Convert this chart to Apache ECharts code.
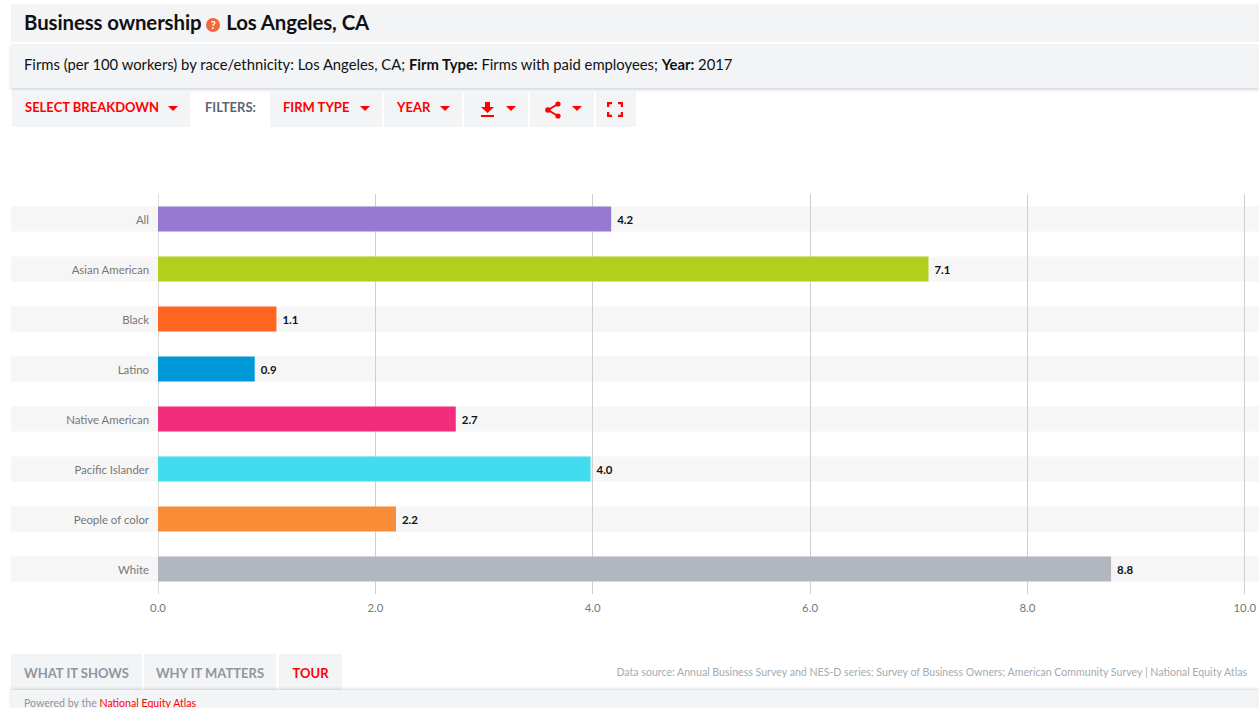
<!DOCTYPE html>
<html>
<head>
<meta charset="utf-8">
<script src="https://cdn.jsdelivr.net/npm/echarts@6/dist/echarts.min.js"></script>
<style>
    html, body { margin: 0; padding: 0; width: 1259px; height: 708px; overflow: hidden; background: #fff; font-family: Lato, "Open Sans", sans-serif; color: #111; }
    #chart { position: absolute; left: 0; top: 0; width: 1259px; height: 708px; }
    .box { position: absolute; background: #f2f4f6; white-space: nowrap; box-sizing: border-box; }
    .title { left: 11px; top: 4px; width: 1248px; height: 38px; line-height: 36px; padding-left: 13px; font-size: 20.4px; font-weight: 700; letter-spacing: -0.1px; }
    .sub { left: 11px; top: 44px; width: 1248px; height: 44px; line-height: 41px; padding-left: 13px; font-size: 14.8px; box-shadow: 0 2px 3px rgba(90, 100, 120, 0.25); }
    .btn { top: 91px; height: 36px; line-height: 33px; color: #f00; font-size: 13px; font-weight: 700; }
    .btn span { position: absolute; top: 0; }
    .caret { position: absolute; top: 15px; width: 0; height: 0; border-left: 5px solid transparent; border-right: 5px solid transparent; border-top: 5px solid #f00; }
    .tab { top: 654px; height: 36px; line-height: 39px; text-align: center; font-size: 13px; font-weight: 700; color: #8e969e; }
    .help { display: inline-block; width: 14px; height: 14px; line-height: 14px; border-radius: 50%; background: #ee6a3c; color: #fff; font-size: 11px; text-align: center; vertical-align: 1px; margin: 0 1px 0 0; letter-spacing: 0; }
    .abs { position: absolute; white-space: nowrap; }
    svg { position: absolute; }
</style>
</head>
<body>
<div id="chart"></div>

<div class="box title">Business ownership <span class="help">?</span> Los Angeles, CA</div>
<div class="box sub">Firms (per 100 workers) by race/ethnicity: Los Angeles, CA; <b>Firm Type:</b> Firms with paid employees; <b>Year:</b> 2017</div>

<div class="box btn" style="left:12px;width:178px"><span style="left:13px">SELECT BREAKDOWN</span><i class="caret" style="left:156px"></i></div>
<div class="abs" style="left:205px;top:91px;line-height:33px;font-size:13px;font-weight:700;color:#5d6670">FILTERS:</div>
<div class="box btn" style="left:270px;width:112px"><span style="left:13px">FIRM TYPE</span><i class="caret" style="left:90px"></i></div>
<div class="box btn" style="left:384px;width:78px"><span style="left:13px">YEAR</span><i class="caret" style="left:56px"></i></div>
<div class="box btn" style="left:464px;width:64px">
    <svg style="left:16px;top:11px" width="15" height="15" viewBox="0 0 15 15"><path d="M5 0h5v5h4l-6.5 6L1 5h4zM1 13h13v2H1z" fill="#f00"/></svg>
    <i class="caret" style="left:42px"></i>
</div>
<div class="box btn" style="left:530px;width:64px">
    <svg style="left:14px;top:10px" width="18" height="18" viewBox="0 0 18 18"><path d="M14 3L4 9l10 6" fill="none" stroke="#f00" stroke-width="2"/><circle cx="14" cy="3" r="2.6" fill="#f00"/><circle cx="4" cy="9" r="2.8" fill="#f00"/><circle cx="14" cy="15" r="2.6" fill="#f00"/></svg>
    <i class="caret" style="left:42px"></i>
</div>
<div class="box btn" style="left:596px;width:40px">
    <svg style="left:11px;top:11px" width="16" height="15" viewBox="0 0 16 15"><path d="M1 5V1h4M11 1h4v4M15 10v4h-4M5 14H1v-4" fill="none" stroke="#f00" stroke-width="2.4"/></svg>
</div>

<div class="box tab" style="left:11px;width:131px">WHAT IT SHOWS</div>
<div class="box tab" style="left:144px;width:132px">WHY IT MATTERS</div>
<div class="box tab" style="left:279px;width:63px;color:#f00">TOUR</div>
<div class="abs" style="right:12px;top:666px;font-size:10.6px;color:#a4abb3">Data source: Annual Business Survey and NES-D series; Survey of Business Owners; American Community Survey | National Equity Atlas</div>
<div class="box" style="left:11px;top:690px;width:1248px;height:18px;line-height:27px;padding-left:13px;font-size:10.6px;color:#8e969e;box-shadow:0 -1px 3px rgba(90,100,120,0.25)">Powered by the <span style="color:#f00">National Equity Atlas</span></div>

<script>
    const categories = ['All', 'Asian American', 'Black', 'Latino', 'Native American', 'Pacific Islander', 'People of color', 'White']
    const firmValues = [4.17, 7.09, 1.09, 0.89, 2.74, 3.98, 2.19, 8.77]
    const barColors = ['#9778d3', '#b2cf1e', '#ff6720', '#0099d8', '#f22e7c', '#41dcef', '#f98c37', '#b1b6bf']
    const xTicks = [0, 2, 4, 6, 8, 10]

    const chart = echarts.init(document.getElementById('chart'), null, { renderer: 'svg' })

    chart.setOption({
        animation: false,
        textStyle: { fontFamily: 'Lato, "Open Sans", sans-serif' },
        grid: { left: 158, right: 14, top: 194, bottom: 114 },
        xAxis: {
            type: 'value',
            min: xTicks[0],
            max: xTicks[xTicks.length - 1],
            interval: 2,
            z: 2,
            axisLine: { show: false },
            axisTick: { show: false },
            axisLabel: { color: '#777', fontSize: 11.4, margin: 8, formatter: v => v.toFixed(1) },
            splitLine: { show: true, lineStyle: { color: '#cfcfcf', width: 1 } }
        },
        yAxis: {
            type: 'category',
            inverse: true,
            data: categories,
            z: 2,
            axisLine: { show: true, lineStyle: { color: '#dcdcdc', width: 1 } },
            axisTick: { show: false },
            axisLabel: { color: '#777', fontSize: 11.4, margin: 9, padding: [0, 0, 3, 0] }
        },
        series: [
            {
                // 灰色底条，从图表左边一直通到页面右边
                type: 'custom',
                z: 1,
                silent: true,
                clip: false,
                encode: { y: 0 },
                data: categories.map((c, i) => [i]),
                renderItem (params, api) {
                    const center = api.coord([0, api.value(0)])
                    return {
                        type: 'rect',
                        shape: { x: 11, y: center[1] - 12.5, width: 1248, height: 25 },
                        style: { fill: '#f6f6f6' }
                    }
                }
            },
            {
                type: 'bar',
                z: 3,
                barWidth: 25,
                data: firmValues.map((v, i) => ({ value: v, itemStyle: { color: barColors[i] } })),
                label: {
                    show: true,
                    position: 'right',
                    distance: 6,
                    color: '#111',
                    fontSize: 11.4,
                    fontWeight: 700,
                    padding: [0, 0, 3, 0],
                    formatter: p => p.value.toFixed(1)
                }
            }
        ]
    })
</script>
</body>
</html>
